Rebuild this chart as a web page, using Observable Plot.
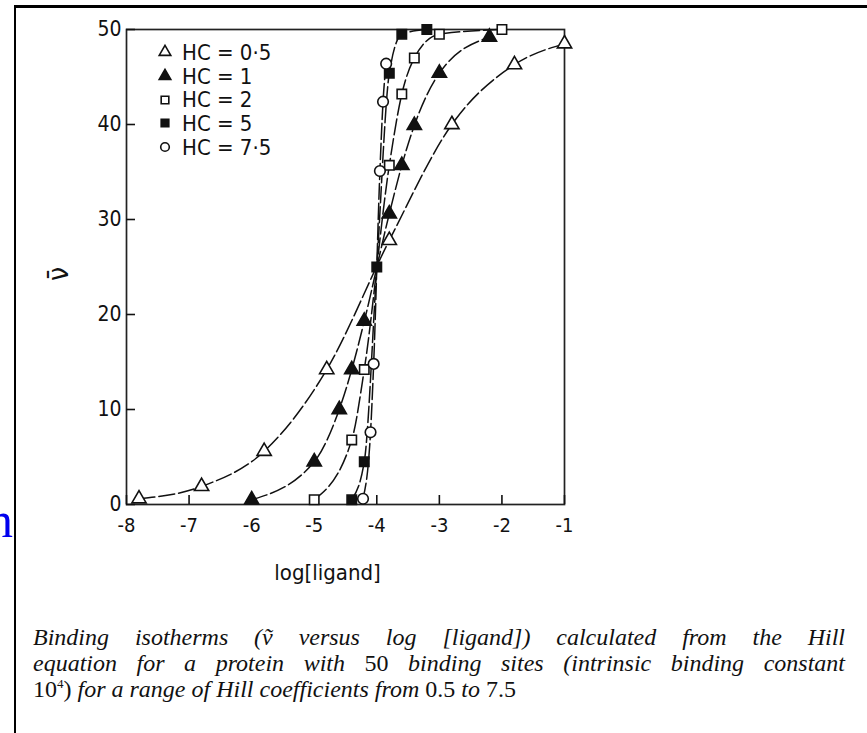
<!DOCTYPE html>
<html><head><meta charset="utf-8">
<script src="https://cdn.jsdelivr.net/npm/d3@7"></script>
<script src="https://cdn.jsdelivr.net/npm/@observablehq/plot@0.6"></script>
<style>
html,body{margin:0;padding:0;background:#fff;}
body{width:867px;height:733px;position:relative;overflow:hidden;}
#border{position:absolute;left:14px;top:5px;width:900px;height:800px;border-top:3px solid #000;border-left:2px solid #000;}
#chart{position:absolute;left:0;top:0;}
#legend{position:absolute;left:0;top:0;font-family:"Liberation Sans Narrow","DejaVu Sans Condensed","Liberation Sans",sans-serif;font-size:22px;color:#111;}
.row{position:absolute;left:155px;height:24px;display:flex;align-items:center;white-space:nowrap;}
.row svg{width:20px;height:20px;margin-right:7px;}
#caption{position:absolute;left:33px;top:624px;width:812px;font-family:"Liberation Serif","Times New Roman",serif;font-style:italic;font-size:24px;line-height:26px;color:#111;}
.cl{text-align:justify;text-align-last:justify;}
.up{font-style:normal;}
sup{font-size:13px;vertical-align:9px;line-height:0;}
#bluen{position:absolute;left:-12px;top:495px;font-family:"Liberation Serif","Times New Roman",serif;font-size:50px;line-height:50px;color:#0000ee;}
#chart svg g[aria-label="x-axis tick label"] text{font-size:20px;}
#chart svg g[aria-label="y-axis tick label"] text{font-size:21px;}
</style>
</head><body>
<div id="border"></div>
<div id="bluen">n</div>
<div id="chart"></div>
<div id="legend"></div>
<div id="caption">
<div class="cl">Binding isotherms (ṽ versus log [ligand]) calculated from the Hill</div>
<div class="cl">equation for a protein with <span class="up">50</span> binding sites (intrinsic binding constant</div>
<div><span class="up">10<sup>4</sup>)</span> for a range of Hill coefficients from <span class="up">0.5</span> to <span class="up">7.5</span></div>
</div>
<script>
// ---- data ----
const xTicks = [-8, -7, -6, -5, -4, -3, -2, -1];
const yTicks = [0, 10, 20, 30, 40, 50];
const seriesLabels = ["HC = 0·5", "HC = 1", "HC = 2", "HC = 5", "HC = 7·5"];

const hc05X = [-7.8, -6.8, -5.8, -4.8, -3.8, -2.8, -1.8, -1.0];
const hc05Y = [0.6, 1.9, 5.6, 14.2, 27.8, 40.0, 46.3, 48.5];

const hc1X = [-6.0, -5.0, -4.6, -4.4, -4.2, -3.8, -3.6, -3.4, -3.0, -2.2];
const hc1Y = [0.5, 4.5, 10.0, 14.2, 19.3, 30.6, 35.7, 39.9, 45.4, 49.2];

const hc2X = [-5.0, -4.4, -4.2, -3.8, -3.6, -3.4, -3.0, -2.0];
const hc2Y = [0.5, 6.8, 14.2, 35.7, 43.2, 47.0, 49.5, 50.0];

const hc5X = [-4.4, -4.2, -4.0, -3.8, -3.6, -3.2];
const hc5Y = [0.5, 4.5, 25.0, 45.4, 49.5, 50.0];

const hc75X = [-4.22, -4.1, -4.05, -3.95, -3.9, -3.85];
const hc75Y = [0.6, 7.6, 14.8, 35.1, 42.4, 46.4];

const xLabel = "log[ligand]";
const yLabel = "ν̄";

// ---- build table ----
const seriesX = [hc05X, hc1X, hc2X, hc5X, hc75X];
const seriesY = [hc05Y, hc1Y, hc2Y, hc5Y, hc75Y];
const symbols = ["triangle", "triangle", "square", "square", "circle"];
const fills = ["white", "#111", "white", "#111", "white"];
const table = seriesLabels.flatMap((hc, s) => seriesX[s].map((x, i) => ({hc, x, y: seriesY[s][i]})));

const FONT = '"Liberation Sans Narrow","DejaVu Sans Condensed","Liberation Sans",sans-serif';
const fmt = d => (d < 0 ? "-" + Math.abs(d) : String(d));

const chart = Plot.plot({
  width: 600, height: 600,
  marginLeft: 126, marginRight: 36, marginTop: 29, marginBottom: 96,
  style: {background: "none", overflow: "visible", fontFamily: FONT, fontSize: "20px", color: "#111"},
  x: {domain: [-8, -1]},
  y: {domain: [0, 50]},
  marks: [
    Plot.frame({stroke: "#222", strokeWidth: 1.7}),
    Plot.axisX({ticks: xTicks, tickSize: -9, tickPadding: 22, tickFormat: fmt, fontSize: 20, label: null, strokeWidth: 1.6}),
    Plot.axisY({ticks: yTicks, tickSize: -9, tickPadding: 14, tickFormat: fmt, fontSize: 21, label: null, strokeWidth: 1.6}),
    ...seriesLabels.map(hc => Plot.line(table.filter(d => d.hc === hc), {
      x: "x", y: "y", curve: "monotone-x", stroke: "#111", strokeWidth: 1.5, strokeDasharray: "16,4"
    })),
    ...seriesLabels.map((hc, s) => Plot.dot(table.filter(d => d.hc === hc), {
      x: "x", y: "y", symbol: symbols[s], r: 5.3, fill: fills[s], stroke: "#111", strokeWidth: 1.6
    })),
    Plot.text([xLabel], {text: d => d, frameAnchor: "bottom", dy: 75, dx: -18, fontSize: 22, ariaLabel: "xlabel", fill: "#111"}),
    Plot.text([yLabel], {text: d => d, frameAnchor: "left", dx: -67, dy: 14, rotate: -90, fontSize: 28, fill: "#111"})
  ]
});
document.getElementById("chart").appendChild(chart);
chart.querySelectorAll('[aria-label="xlabel"] text').forEach(t => t.style.letterSpacing = "2px");

// ---- legend ----
const legend = document.getElementById("legend");
const rowCenters = [52, 76, 99.5, 123, 147];
const d3Sym = {triangle: d3.symbolTriangle, square: d3.symbolSquare, circle: d3.symbolCircle};
seriesLabels.forEach((lab, i) => {
  const row = document.createElement("div");
  row.className = "row";
  row.style.top = (rowCenters[i] - 12) + "px";
  const path = d3.symbol().type(d3Sym[symbols[i]]).size(Math.PI * 4.3 * 4.3)();
  row.innerHTML = `<svg viewBox="-10 -10 20 20"><path d="${path}" fill="${fills[i]}" stroke="#111" stroke-width="1.6"/></svg><span>${lab}</span>`;
  legend.appendChild(row);
});
</script>
</body></html>
